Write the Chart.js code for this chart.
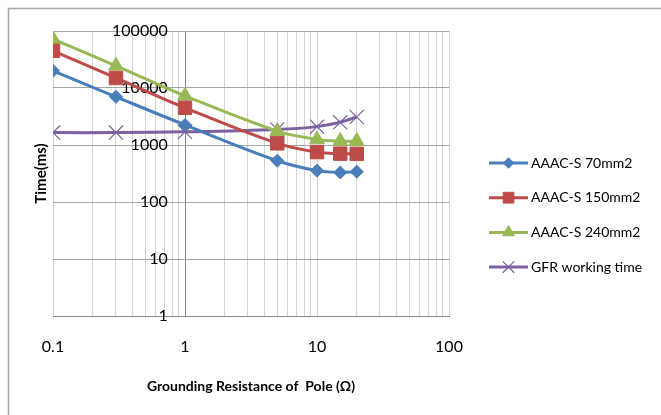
<!DOCTYPE html>
<html><head><meta charset="utf-8">
<script src="https://cdn.jsdelivr.net/npm/chart.js@4.4.1/dist/chart.umd.min.js"></script>
<style>html,body{margin:0;padding:0;background:#fff}#wrap{position:relative;width:661px;height:415px}canvas{display:block}</style>
</head><body><div id="wrap"><canvas id="c" width="661" height="415"></canvas></div>
<script>
// ---- data ----
const resistance = [0.1, 0.3, 1, 5, 10, 15, 20];
const aaac70  = [20000, 7000, 2250, 530, 355, 330, 340];
const aaac150 = [45000, 15000, 4500, 1070, 750, 705, 700];
const aaac240 = [72000, 24500, 7300, 1750, 1250, 1170, 1170];
const gfrTime = [1650, 1650, 1700, 1870, 2100, 2500, 3100];
const seriesNames = ['AAAC-S 70mm2', 'AAAC-S 150mm2', 'AAAC-S 240mm2', 'GFR working time'];
const xTickLabels = ['0.1', '1', '10', '100'];
const yTickLabels = ['1', '10', '100', '1000', '10000', '100000'];
const xTitle = 'Grounding Resistance of  Pole (\u03A9)';
const yTitle = 'Time(ms)';

// ---- styles ----
const FONT = 'Lato, "Open Sans", sans-serif';
const colors = ['#4A7EBB', '#BE4B48', '#98B954', '#7D60A0'];
const styles = [
  {pointStyle: 'rectRot', radius: 6.5, bw: 1},
  {pointStyle: 'rect', radius: 9.5, bw: 1},
  {pointStyle: 'triangle', radius: 8.5, bw: 1},
  {pointStyle: 'crossRot', radius: 10, bw: 1.2}
];
const yLabelAnchor = 0.74;

function near(v, list) { return list.some(s => Math.abs(Number(s) - v) < 1e-9 * Math.max(1, v)); }
function findLabel(v, list) { return list.find(s => Math.abs(Number(s) - v) < 1e-9 * Math.max(1, v)) || ''; }
function mantissaIsInt(v) {
  const e = Math.floor(Math.log10(v) + 1e-9);
  const m = v / Math.pow(10, e);
  return Math.abs(m - Math.round(m)) < 1e-6;
}

const seriesValues = [aaac70, aaac150, aaac240, gfrTime];
const datasets = seriesValues.map((vals, i) => ({
  label: seriesNames[i],
  data: resistance.map((x, j) => ({x: x, y: vals[j]})),
  borderColor: colors[i],
  backgroundColor: colors[i],
  borderWidth: 3,
  tension: 0.35,
  pointStyle: styles[i].pointStyle,
  pointRadius: styles[i].radius,
  pointHoverRadius: styles[i].radius,
  pointBorderWidth: styles[i].bw,
  pointBackgroundColor: colors[i],
  pointBorderColor: colors[i]
}));

const framePlugin = {
  id: 'frame',
  beforeDraw(chart) {
    const ctx = chart.ctx;
    ctx.save();
    ctx.fillStyle = '#fff';
    ctx.fillRect(0, 0, chart.width, chart.height);
    ctx.strokeStyle = '#a6a6a6';
    ctx.lineWidth = 1.5;
    ctx.beginPath();
    ctx.moveTo(8.5, chart.height);
    ctx.lineTo(8.5, 8.5);
    ctx.lineTo(chart.width, 8.5);
    ctx.stroke();
    ctx.restore();
  },
  afterDraw(chart) {
    const ctx = chart.ctx;
    ctx.save();
    ctx.fillStyle = '#000';
    ctx.font = 'bold 15px ' + FONT;
    ctx.textAlign = 'center';
    ctx.textBaseline = 'middle';
    ctx.translate(41, (chart.chartArea.top + chart.chartArea.bottom) / 2);
    ctx.rotate(-Math.PI / 2);
    ctx.fillText(yTitle, 0, 0);
    ctx.restore();
    ctx.save();
    chart.data.datasets.forEach((ds, i) => {
      const y = 163 + i * 34.7;
      ctx.strokeStyle = ds.borderColor;
      ctx.lineWidth = 3;
      ctx.beginPath();
      ctx.moveTo(489, y);
      ctx.lineTo(528, y);
      ctx.stroke();
      ctx.fillStyle = ds.pointBackgroundColor;
      ctx.strokeStyle = ds.pointBorderColor;
      ctx.lineWidth = ds.pointBorderWidth;
      Chart.helpers.drawPoint(ctx, {pointStyle: ds.pointStyle, radius: ds.pointRadius * 0.8, borderWidth: ds.pointBorderWidth, rotation: 0}, 508.5, y);
      ctx.fillStyle = '#000';
      ctx.font = '14px ' + FONT;
      ctx.textAlign = 'left';
      ctx.textBaseline = 'middle';
      ctx.fillText(ds.label, 531, y);
    });
    ctx.restore();
  }
};

new Chart(document.getElementById('c'), {
  type: 'line',
  data: {datasets},
  plugins: [framePlugin],
  options: {
    responsive: false,
    animation: false,
    devicePixelRatio: 1,
    layout: {padding: {left: 53, right: 212, top: 31, bottom: 16}},
    plugins: {legend: {display: false}, tooltip: {enabled: false}},
    scales: {
      x: {
        type: 'logarithmic', min: 0.1, max: 100, position: 'bottom',
        border: {display: true, color: '#868686', width: 1},
        grid: {
          drawTicks: false,
          lineWidth: 1,
          color: c => {
            const v = c.tick.value;
            if (Math.abs(v - 1) < 1e-9) return '#868686';
            return mantissaIsInt(v) ? '#d4d4d4' : 'rgba(0,0,0,0)';
          }
        },
        ticks: {
          autoSkip: false, maxRotation: 0, padding: 21, color: '#000',
          font: {family: FONT, size: 16},
          callback: v => findLabel(v, xTickLabels)
        },
        title: {display: true, text: xTitle, color: '#000', font: {family: FONT, size: 14, weight: 'bold'}, padding: {top: 1, bottom: 4}}
      },
      y: {
        type: 'logarithmic', min: 1, max: 100000, position: {x: yLabelAnchor},
        border: {display: false},
        grid: {
          drawTicks: false,
          lineWidth: 1,
          color: c => near(c.tick.value, yTickLabels) ? '#a6a6a6' : 'rgba(0,0,0,0)'
        },
        ticks: {
          autoSkip: false, color: '#000',
          font: {family: FONT, size: 16},
          callback: v => findLabel(v, yTickLabels)
        }
      }
    }
  }
});
</script></body></html>
